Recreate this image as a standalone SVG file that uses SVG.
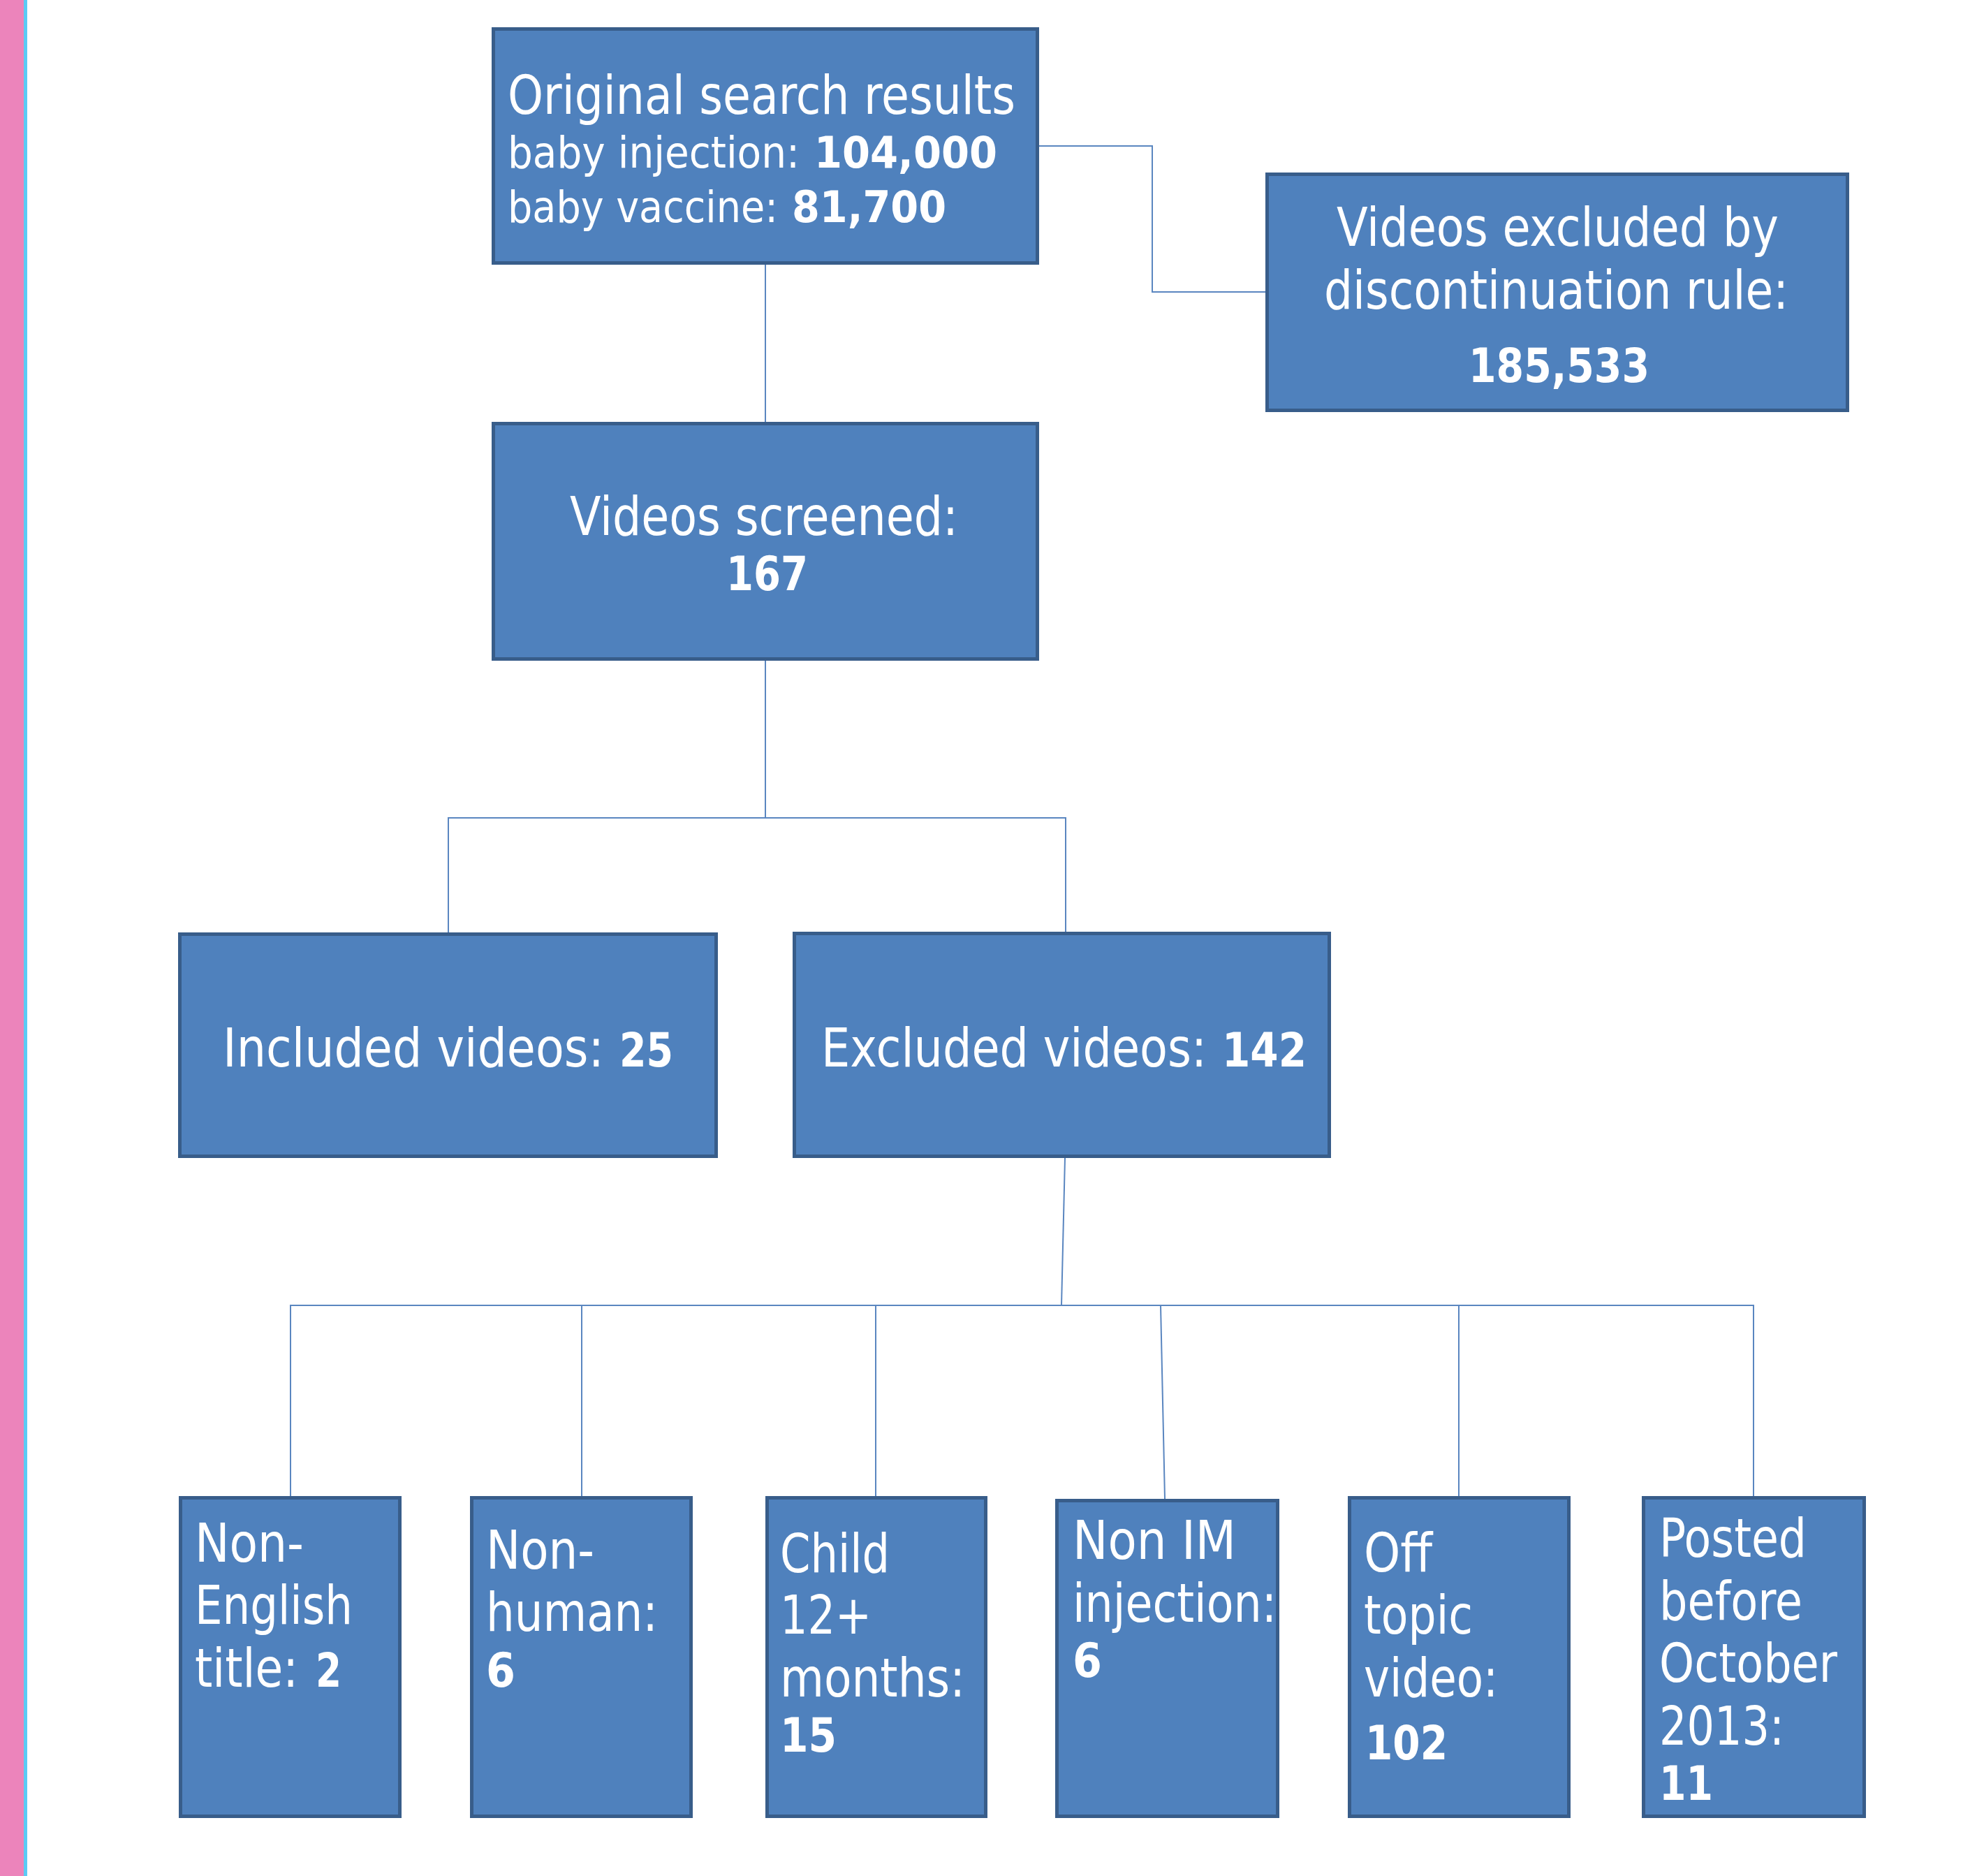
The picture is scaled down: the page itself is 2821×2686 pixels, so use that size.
<svg xmlns="http://www.w3.org/2000/svg" width="2821" height="2686" viewBox="0 0 2821 2686">
<style>
.box{fill:#4F81BD;stroke:#385D8A;stroke-width:5}
.t{font-family:"DejaVu Sans Condensed","DejaVu Sans",sans-serif;fill:#FFFFFF;font-size:76px}
.s{font-size:62px}
.b{font-weight:bold;font-size:67px}
.sb{font-weight:bold;font-size:63px}
.c{fill:none;stroke:#5A86C0;stroke-width:2}
</style>
<rect x="0" y="0" width="2821" height="2686" fill="#FFFFFF"/>
<rect x="0" y="0" width="34" height="2686" fill="#EC84BB"/>
<rect x="34" y="0" width="5" height="2686" fill="#5BCBF5"/>
<g id="connectors">
<path class="c" d="M1096,379 V604"/>
<path class="c" d="M1488,209 H1650 V418 H1812"/>
<path class="c" d="M1096,946 V1171"/>
<path class="c" d="M642,1335 V1171 H1526 V1334"/>
<path class="c" d="M1525,1658 L1520,1869"/>
<path class="c" d="M416,2142 V1869 H2511 V2142"/>
<path class="c" d="M833,1869 V2142"/>
<path class="c" d="M1254,1869 V2142"/>
<path class="c" d="M1662,1869 L1668,2146"/>
<path class="c" d="M2089,1869 V2142"/>
</g>
<g id="original">
<rect class="box" x="706.5" y="41.5" width="779" height="335"/>
<text class="t" x="727" y="163" textLength="727" lengthAdjust="spacingAndGlyphs">Original search results</text>
<text class="t s" x="727" y="240" textLength="418" lengthAdjust="spacingAndGlyphs">baby injection:</text>
<text class="t sb" x="1166" y="240" textLength="262" lengthAdjust="spacingAndGlyphs">104,000</text>
<text class="t s" x="727" y="318" textLength="387" lengthAdjust="spacingAndGlyphs">baby vaccine:</text>
<text class="t sb" x="1134" y="318" textLength="221" lengthAdjust="spacingAndGlyphs">81,700</text>
</g>
<g id="discontinued">
<rect class="box" x="1814.5" y="249.5" width="831" height="338"/>
<text class="t" x="1914" y="352" textLength="633" lengthAdjust="spacingAndGlyphs">Videos excluded by</text>
<text class="t" x="1896" y="442" textLength="665" lengthAdjust="spacingAndGlyphs">discontinuation rule:</text>
<text class="t b" x="2103" y="547" textLength="259" lengthAdjust="spacingAndGlyphs">185,533</text>
</g>
<g id="screened">
<rect class="box" x="706.5" y="606.5" width="779" height="337"/>
<text class="t" x="816" y="766" textLength="556" lengthAdjust="spacingAndGlyphs">Videos screened:</text>
<text class="t b" x="1040" y="845" textLength="117" lengthAdjust="spacingAndGlyphs">167</text>
</g>
<g id="included">
<rect class="box" x="257.5" y="1337.5" width="768" height="318"/>
<text class="t" x="319" y="1527" textLength="546" lengthAdjust="spacingAndGlyphs">Included videos:</text>
<text class="t b" x="887" y="1527" textLength="77" lengthAdjust="spacingAndGlyphs">25</text>
</g>
<g id="excluded">
<rect class="box" x="1137.5" y="1336.5" width="766" height="319"/>
<text class="t" x="1176" y="1527" textLength="552" lengthAdjust="spacingAndGlyphs">Excluded videos:</text>
<text class="t b" x="1750" y="1527" textLength="121" lengthAdjust="spacingAndGlyphs">142</text>
</g>
<g id="nonenglish">
<rect class="box" x="258.5" y="2144.5" width="314" height="456"/>
<text class="t" x="279" y="2236" textLength="156" lengthAdjust="spacingAndGlyphs">Non-</text>
<text class="t" x="279" y="2325" textLength="226" lengthAdjust="spacingAndGlyphs">English</text>
<text class="t" x="279" y="2415" textLength="148" lengthAdjust="spacingAndGlyphs">title:</text>
<text class="t b" x="452" y="2415" textLength="37" lengthAdjust="spacingAndGlyphs">2</text>
</g>
<g id="nonhuman">
<rect class="box" x="675.5" y="2144.5" width="314" height="456"/>
<text class="t" x="696" y="2246" textLength="155" lengthAdjust="spacingAndGlyphs">Non-</text>
<text class="t" x="696" y="2335" textLength="246" lengthAdjust="spacingAndGlyphs">human:</text>
<text class="t b" x="696" y="2415">6</text>
</g>
<g id="child">
<rect class="box" x="1098.5" y="2144.5" width="313" height="456"/>
<text class="t" x="1117" y="2251" textLength="157" lengthAdjust="spacingAndGlyphs">Child</text>
<text class="t" x="1117" y="2339" textLength="131" lengthAdjust="spacingAndGlyphs">12+</text>
<text class="t" x="1117" y="2429" textLength="265" lengthAdjust="spacingAndGlyphs">months:</text>
<text class="t b" x="1117" y="2508" textLength="81" lengthAdjust="spacingAndGlyphs">15</text>
</g>
<g id="nonim">
<rect class="box" x="1513.5" y="2148.5" width="316" height="452"/>
<text class="t" x="1536" y="2232" textLength="234" lengthAdjust="spacingAndGlyphs">Non IM</text>
<text class="t" x="1536" y="2322" textLength="292" lengthAdjust="spacingAndGlyphs">injection:</text>
<text class="t b" x="1536" y="2401">6</text>
</g>
<g id="offtopic">
<rect class="box" x="1932.5" y="2144.5" width="314" height="456"/>
<text class="t" x="1953" y="2250" textLength="98" lengthAdjust="spacingAndGlyphs">Off</text>
<text class="t" x="1953" y="2339" textLength="156" lengthAdjust="spacingAndGlyphs">topic</text>
<text class="t" x="1953" y="2429" textLength="192" lengthAdjust="spacingAndGlyphs">video:</text>
<text class="t b" x="1955" y="2519" textLength="118" lengthAdjust="spacingAndGlyphs">102</text>
</g>
<g id="posted">
<rect class="box" x="2353.5" y="2144.5" width="316" height="456"/>
<text class="t" x="2376" y="2229" textLength="211" lengthAdjust="spacingAndGlyphs">Posted</text>
<text class="t" x="2376" y="2319" textLength="205" lengthAdjust="spacingAndGlyphs">before</text>
<text class="t" x="2376" y="2408" textLength="255" lengthAdjust="spacingAndGlyphs">October</text>
<text class="t" x="2376" y="2498" textLength="179" lengthAdjust="spacingAndGlyphs">2013:</text>
<text class="t b" x="2376" y="2577" textLength="77" lengthAdjust="spacingAndGlyphs">11</text>
</g>
</svg>
